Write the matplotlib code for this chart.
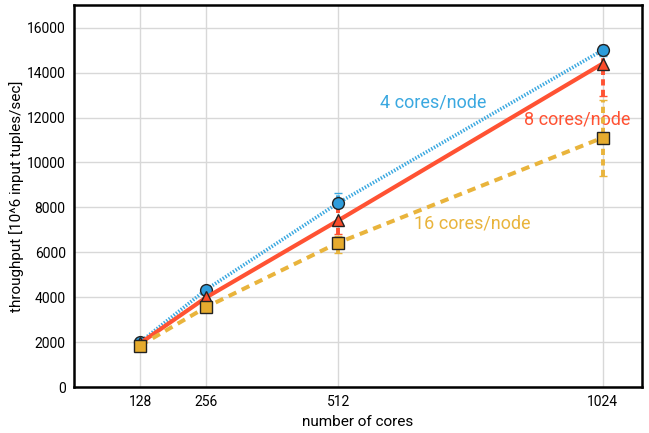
import matplotlib
matplotlib.use("Agg")
import matplotlib.pyplot as plt
from matplotlib import font_manager

names = {f.name for f in font_manager.fontManager.ttflist}
if "Liberation Sans Narrow" in names:
    plt.rcParams["font.family"] = ["Liberation Sans Narrow", "DejaVu Sans"]
else:
    plt.rcParams["font.family"] = ["Roboto", "DejaVu Sans"]

cores = [128, 256, 512, 1024]

# throughput per configuration, with lower / upper ends of the error bars
tp4 = [2000, 4340, 8200, 15000]
tp4_lo = [1950, 4250, 8000, 14750]
tp4_hi = [2050, 4450, 8660, 15250]

tp8 = [1950, 3990, 7420, 14400]
tp8_lo = [1900, 3900, 6830, 12950]
tp8_hi = [2000, 4100, 8000, 15250]

tp16 = [1850, 3560, 6430, 11100]
tp16_lo = [1800, 3450, 5950, 9400]
tp16_hi = [1900, 3650, 6740, 12800]

# label, data, line colour, marker colour, line dashes, errorbar dashes, marker, lw, text pos
series = [
    ("4 cores/node", tp4, tp4_lo, tp4_hi, "#3aa8e0", "#2d9cdb", (0.4, 0.45), (0.6, 0.6), "o", 2.6, (696, 12680)),
    ("8 cores/node", tp8, tp8_lo, tp8_hi, "#ff5233", "#fa4b2a", None, (1.6, 1.1), "^", 3.0, (974, 11920)),
    ("16 cores/node", tp16, tp16_lo, tp16_hi, "#e9b43c", "#e6ab2e", (2.1, 1.5), (1.6, 1.1), "s", 2.9, (771, 7270)),
]

fig = plt.figure(figsize=(6.49, 4.33), dpi=100)
ax = fig.add_axes([0.114, 0.106, 0.875, 0.882])

for label, y, lo, hi, c, mc, dash, edash, mk, lw, pos in series:
    yerr = [[v - l for v, l in zip(y, lo)], [h - v for v, h in zip(y, hi)]]
    eb = ax.errorbar(cores, y, yerr=yerr, color=c, lw=lw, marker=mk,
                     markersize=8.5, markerfacecolor=mc, markeredgecolor="#222222",
                     markeredgewidth=1.0, ecolor=c, elinewidth=2.8, capsize=3, zorder=3)
    if dash is not None:
        eb[0].set_dashes(dash)
    for bar in eb[2]:
        bar.set_linestyle((0, edash))
    ax.text(pos[0], pos[1], label, color=c, fontsize=13, ha="center", va="center")

ax.set_xlim(0, 1100)
ax.set_ylim(0, 17000)
ax.set_xticks(cores)
ax.set_yticks(range(0, 16001, 2000))
ax.grid(True, color="#d8d8d8", lw=1)
ax.set_axisbelow(True)
ax.tick_params(length=0, labelsize=10, pad=6)
for sp in ax.spines.values():
    sp.set_linewidth(1.8)
ax.set_xlabel("number of cores", fontsize=11, labelpad=4)
ax.set_ylabel("throughput [10^6 input tuples/sec]", fontsize=11, labelpad=2)

fig.savefig("out.png", dpi=100)
